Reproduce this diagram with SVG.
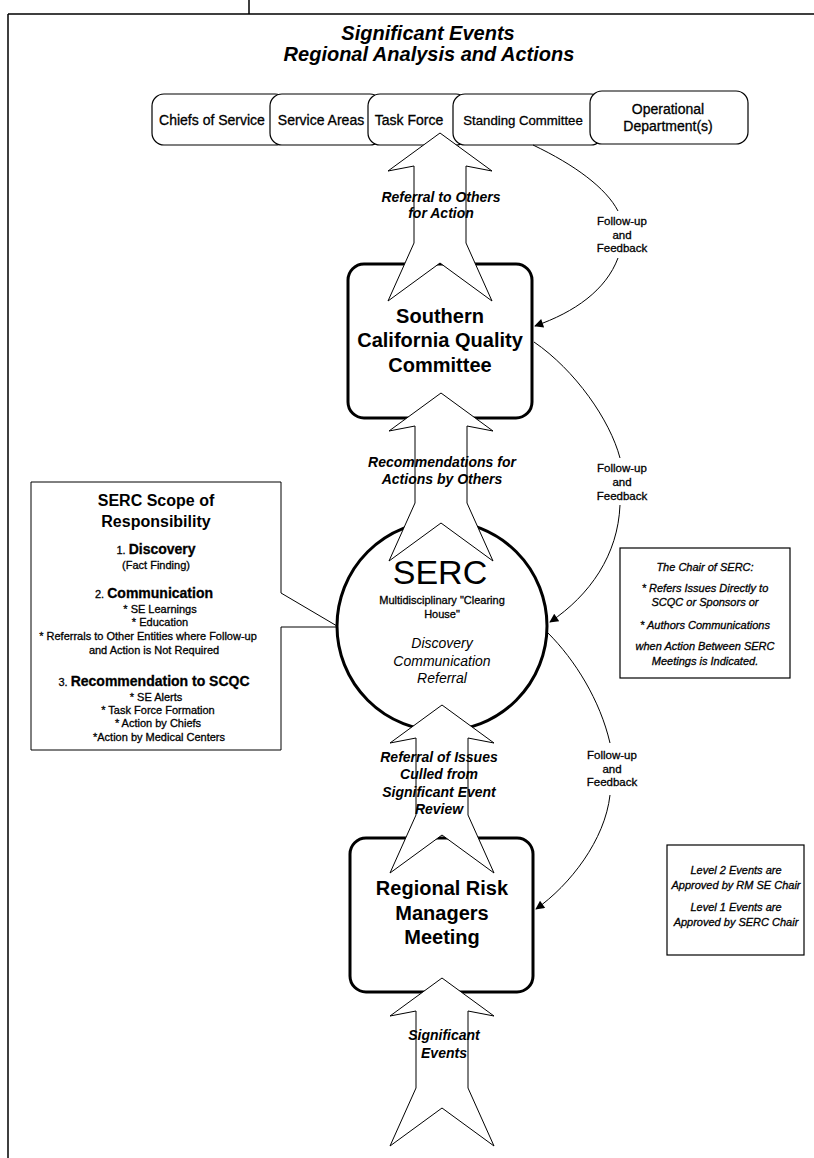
<svg xmlns="http://www.w3.org/2000/svg" width="814" height="1158" viewBox="0 0 814 1158">
<style>
.t{font-family:"Liberation Sans",Arial,sans-serif;fill:#000}
.h{stroke:#000;stroke-width:0.3}
.bi{font-weight:bold;font-style:italic}
.b{font-weight:bold}
.i{font-style:italic}
.c{text-anchor:middle}
.box{fill:#fff;stroke:#000;stroke-width:1.2}
.node{fill:#fff;stroke:#000;stroke-width:3}
.big{fill:#fff;stroke:#000;stroke-width:1}
.thin{fill:none;stroke:#000;stroke-width:1}
.frame{fill:none;stroke:#000;stroke-width:1.5}
</style>
<defs>
<marker id="ah" viewBox="0 0 10 10" refX="9" refY="5" markerWidth="12" markerHeight="9" orient="auto" markerUnits="userSpaceOnUse"><path d="M0,0 L10,5 L0,10 z" fill="#000"/></marker>
</defs>
<rect width="814" height="1158" fill="#fff"/>
<g id="frame">
<path class="frame" d="M249,0 V14 M8,14 H814 M8,14 V1158"/>
</g>
<g id="title">
<text class="t bi c" x="428" y="40" font-size="20">Significant Events</text>
<text class="t bi c" x="429" y="61" font-size="20">Regional Analysis and Actions</text>
</g>
<g id="chiefs"><rect class="box" x="152" y="94" width="135" height="51" rx="12"/><text class="t h c" x="212" y="125" font-size="14">Chiefs of Service</text></g>
<g id="service-areas"><rect class="box" x="270" y="94" width="112" height="51" rx="12"/><text class="t h c" x="321" y="125" font-size="14">Service Areas</text></g>
<g id="task-force"><rect class="box" x="368" y="94" width="100" height="51" rx="12"/><text class="t h c" x="409" y="125" font-size="14">Task Force</text></g>
<g id="standing-committee"><rect class="box" x="453" y="94" width="150" height="51" rx="12"/><text class="t h c" x="523" y="125" font-size="13.2">Standing Committee</text></g>
<g id="operational"><rect class="box" x="590" y="91" width="158" height="53" rx="12"/><text class="t h c" x="668" y="114" font-size="14">Operational</text><text class="t h c" x="668" y="131" font-size="14">Department(s)</text></g>
<g id="scqc"><rect class="node" x="348" y="264" width="184" height="154" rx="16"/>
<text class="t b c" x="440" y="323" font-size="20">Southern</text>
<text class="t b c" x="440" y="347" font-size="20">California Quality</text>
<text class="t b c" x="440" y="372" font-size="20">Committee</text></g>
<g id="serc"><circle class="node" cx="442" cy="626" r="105"/>
<text class="t c" x="440" y="584" font-size="34">SERC</text>
<text class="t h c" x="442" y="604" font-size="11">Multidisciplinary "Clearing</text>
<text class="t h c" x="442" y="618" font-size="11">House"</text>
<text class="t i c" x="442" y="648" font-size="14">Discovery</text>
<text class="t i c" x="442" y="666" font-size="14">Communication</text>
<text class="t i c" x="442" y="683" font-size="14">Referral</text></g>
<g id="rrm"><rect class="node" x="350" y="838" width="183" height="154" rx="16"/>
<text class="t b c" x="442" y="895" font-size="20">Regional Risk</text>
<text class="t b c" x="442" y="920" font-size="20">Managers</text>
<text class="t b c" x="442" y="944" font-size="20">Meeting</text></g>
<g id="scope">
<path class="thin" d="M281,593 V482 H31 V750 H281 V627 M281,593 L337,626 M281,627 L337,627" stroke-width="1.2"/>
<text class="t b c" x="156" y="506" font-size="16">SERC Scope of</text>
<text class="t b c" x="156" y="527" font-size="16">Responsibility</text>
<text class="t h c" x="156" y="554" font-size="11">1. <tspan class="b" font-size="14">Discovery</tspan></text>
<text class="t h c" x="156" y="569" font-size="11">(Fact Finding)</text>
<text class="t h c" x="154" y="598" font-size="11">2. <tspan class="b" font-size="14">Communication</tspan></text>
<text class="t h c" x="160" y="613" font-size="11">* SE Learnings</text>
<text class="t h c" x="160" y="626" font-size="11">* Education</text>
<text class="t h c" x="148" y="640" font-size="11">* Referrals to Other Entities where Follow-up</text>
<text class="t h c" x="154" y="654" font-size="11">and Action is Not Required</text>
<text class="t h c" x="154" y="686" font-size="11">3. <tspan class="b" font-size="14">Recommendation to SCQC</tspan></text>
<text class="t h c" x="156" y="701" font-size="11">* SE Alerts</text>
<text class="t h c" x="158" y="714" font-size="11">* Task Force Formation</text>
<text class="t h c" x="158" y="727" font-size="11">* Action by Chiefs</text>
<text class="t h c" x="159" y="741" font-size="11">*Action by Medical Centers</text>
</g>
<g id="chair-note"><rect class="box" x="620" y="548" width="170" height="130"/>
<text class="t h i c" x="705" y="571" font-size="11">The Chair of SERC:</text>
<text class="t h i c" x="705" y="592" font-size="11">* Refers Issues Directly to</text>
<text class="t h i c" x="705" y="606" font-size="11">SCQC or Sponsors or</text>
<text class="t h i c" x="705" y="629" font-size="11">* Authors Communications</text>
<text class="t h i c" x="705" y="650" font-size="11">when Action Between SERC</text>
<text class="t h i c" x="705" y="665" font-size="11">Meetings is Indicated.</text></g>
<g id="level-note"><rect class="box" x="667" y="845" width="137" height="110"/>
<text class="t h i c" x="736" y="874" font-size="11">Level 2 Events are</text>
<text class="t h i c" x="736" y="889" font-size="11">Approved by RM SE Chair</text>
<text class="t h i c" x="736" y="911" font-size="11">Level 1 Events are</text>
<text class="t h i c" x="736" y="926" font-size="11">Approved by SERC Chair</text></g>
<g id="connectors">
<polygon class="big" points="440,133 492,171 466,166 466,243 492,301 440,263 388,301 414,243 414,166 388,171"/>
<polygon class="big" points="441,393 493,431 467,426 467,503 493,561 441,523 389,561 415,503 415,426 389,431"/>
<polygon class="big" points="442,705 494,743 468,738 468,815 494,873 442,835 390,873 416,815 416,738 390,743"/>
<polygon class="big" points="442,978 494,1016 468,1011 468,1088 494,1146 442,1108 390,1146 416,1088 416,1011 390,1016"/>
<text class="t bi c" x="441" y="202" font-size="14">Referral to Others</text>
<text class="t bi c" x="441" y="218" font-size="14">for Action</text>
<text class="t bi c" x="442" y="467" font-size="14">Recommendations for</text>
<text class="t bi c" x="442" y="484" font-size="14">Actions by Others</text>
<text class="t bi c" x="439" y="762" font-size="14">Referral of Issues</text>
<text class="t bi c" x="439" y="779" font-size="14">Culled from</text>
<text class="t bi c" x="439" y="797" font-size="14">Significant Event</text>
<text class="t bi c" x="439" y="814" font-size="14">Review</text>
<text class="t bi c" x="444" y="1040" font-size="14">Significant</text>
<text class="t bi c" x="444" y="1058" font-size="14">Events</text>
<path class="thin" d="M533,145 C575,165 606,188 618,211"/>
<path class="thin" d="M618,258 C606,290 575,312 535,326" marker-end="url(#ah)"/>
<text class="t h c" x="622" y="225" font-size="11.5">Follow-up</text>
<text class="t h c" x="622" y="239" font-size="11.5">and</text>
<text class="t h c" x="622" y="252" font-size="11.5">Feedback</text>
<path class="thin" d="M534,342 C575,370 610,420 620,458"/>
<path class="thin" d="M620,505 C618,555 590,595 550,622" marker-end="url(#ah)"/>
<text class="t h c" x="622" y="472" font-size="11.5">Follow-up</text>
<text class="t h c" x="622" y="486" font-size="11.5">and</text>
<text class="t h c" x="622" y="500" font-size="11.5">Feedback</text>
<path class="thin" d="M548,633 C575,660 600,700 610,743"/>
<path class="thin" d="M610,795 C605,840 570,885 536,909" marker-end="url(#ah)"/>
<text class="t h c" x="612" y="759" font-size="11.5">Follow-up</text>
<text class="t h c" x="612" y="773" font-size="11.5">and</text>
<text class="t h c" x="612" y="786" font-size="11.5">Feedback</text>
</g>
</svg>
